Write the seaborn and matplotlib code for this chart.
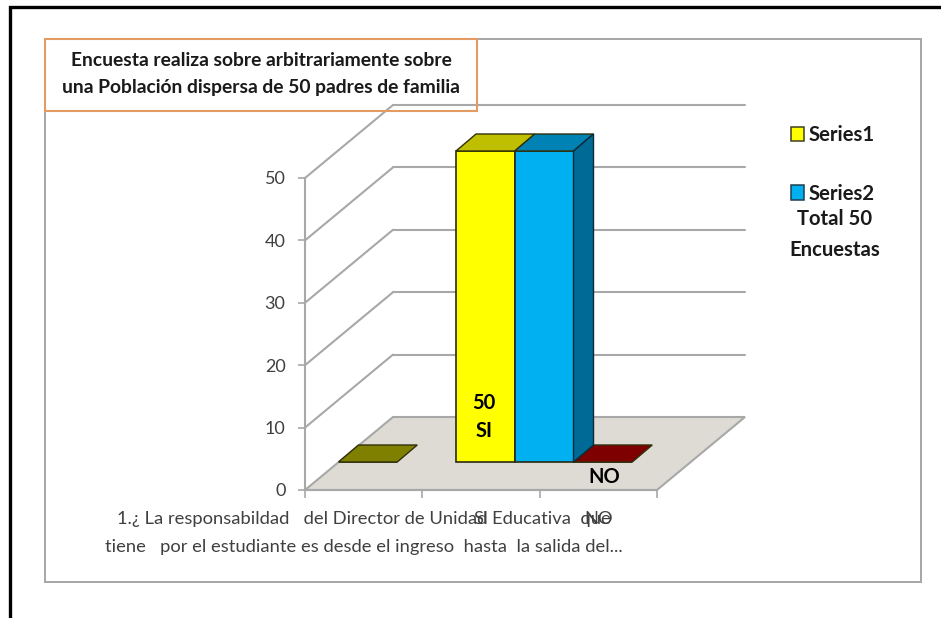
#!/usr/bin/env python3
"""Encuesta chart: fake 3D columns drawn with seaborn on two stacked axes"""

import pandas as pd
import matplotlib
matplotlib.use('Agg')
import matplotlib.pyplot as plt
from matplotlib.patches import Polygon, Rectangle, Patch
from matplotlib.transforms import Affine2D
import seaborn as sns

# Data
categories = ['1.¿ La responsabildad   del Director de Unidad Educativa  que\n'
              'tiene   por el estudiante es desde el ingreso  hasta  la salida del...',
              'SI', 'NO']
series1 = [0, 50, 0]
series2 = [None, 50, None]
y_ticks = [0, 10, 20, 30, 40, 50]
title_lines = ['Encuesta realiza sobre arbitrariamente sobre',
               'una Población dispersa de 50 padres de familia']
notes = ['Total 50', 'Encuestas']

# Colours
front_colors = {('Series1', 0): '#FFFF00', ('Series1', 1): '#FFFF00', ('Series1', 2): '#C00000',
                ('Series2', 1): '#00B0F0'}
top_colors = {('Series1', 0): '#808000', ('Series1', 1): '#BFBF00', ('Series1', 2): '#7F0000',
              ('Series2', 1): '#0082B4'}
side_color = '#006A96'
GRID = '#A8A8A8'
FLOOR = '#DDDBD3'
W, H = 941, 618

sns.set_theme(style='white')
plt.rcParams['font.family'] = ['Lato', 'DejaVu Sans']


def px_rect(x0, y0, x1, y1):
    """Pixel box (top-left origin) to figure fractions"""
    return [x0 / W, 1 - y1 / H, (x1 - x0) / W, (y1 - y0) / H]


def shifted(ax, dx, dy):
    """Data transform moved by some pixels, for the depth of the fake 3D"""
    return ax.transData + Affine2D().translate(dx, dy)


fig = plt.figure(figsize=(W / 100, H / 100), dpi=100, facecolor='white')

# Page frame and chart frame, in pixels
bg = fig.add_axes([0, 0, 1, 1], zorder=0)
bg.set_xlim(0, W)
bg.set_ylim(H, 0)
bg.axis('off')
bg.plot([10, 10, W], [H, 7, 7], color='black', lw=2.4, solid_joinstyle='miter')
bg.add_patch(Rectangle((45, 39), 876, 543, fc='none', ec='#A6A6A6', lw=1.4))

# Front plane of the box: holds the scale, ticks and labels
ax = fig.add_axes(px_rect(305, 178, 657, 490), zorder=1, facecolor='none')
ax.set_xlim(-0.5, 2.5)
ax.set_ylim(0, 50)
ax.set_yticks(y_ticks)
ax.set_xticks([-0.5, 0.5, 1.5, 2.5])
ax.set_xticklabels([])
ax.set_xticks([0, 1, 2], labels=categories, minor=True)
for s in ['top', 'right']:
    ax.spines[s].set_visible(False)
for s in ['left', 'bottom']:
    ax.spines[s].set_color(GRID)
    ax.spines[s].set_linewidth(1.5)
ax.tick_params(axis='y', which='major', left=True, length=5, width=1.2, color=GRID,
               labelsize=13, labelcolor='#404040', pad=9)
ax.tick_params(axis='x', which='major', bottom=True, length=6, width=1.2, color=GRID)
ax.tick_params(axis='x', which='minor', bottom=False, length=0, labelsize=13.2,
               labelcolor='#404040', pad=15)
for lab in ax.get_xticklabels(minor=True):
    lab.set_linespacing(1.9)

# Floor and back wall lines
back = shifted(ax, 88, 73)
floor = Polygon([(-0.5, 0), (2.5, 0), (2.5, 0), (-0.5, 0)], closed=True, fc=FLOOR, ec=GRID, lw=1.5,
                clip_on=False, zorder=1)
disp = ax.transData
p0, p1 = disp.transform([(-0.5, 0), (2.5, 0)])
floor.set_transform(Affine2D())
floor.set_xy([p0, p1, p1 + (88, 73), p0 + (88, 73)])
ax.add_patch(floor)
for v in y_ticks[1:]:
    a, b = disp.transform([(-0.5, v), (2.5, v)])
    ax.plot([a[0], a[0] + 88], [a[1], a[1] + 73], color=GRID, lw=1.5, transform=Affine2D(),
            clip_on=False, zorder=1)
    ax.plot([-0.5, 2.5], [v, v], color=GRID, lw=1.5, transform=back, clip_on=False, zorder=1)

# Columns, one plane further back than the axis
bars_ax = fig.add_axes(px_rect(338.5, 151, 691, 462), zorder=2, facecolor='none')
df = pd.DataFrame({'categoria': categories * 2,
                   'valor': series1 + series2,
                   'serie': ['Series1'] * 3 + ['Series2'] * 3}).dropna()
sns.barplot(data=df, x='categoria', y='valor', hue='serie', order=categories,
            hue_order=['Series1', 'Series2'], width=1.0, gap=0, dodge=True, ax=bars_ax,
            legend=False, saturation=1)
bars_ax.set_xlim(-0.5, 2.5)
bars_ax.set_ylim(0, 50)
bars_ax.axis('off')

DX, DY = 20, 17
for name, container in zip(['Series1', 'Series2'], bars_ax.containers):
    for patch in container:
        if not patch.get_width() or pd.isna(patch.get_height()):
            continue
        cat = int(round(patch.get_x() + patch.get_width() / 2))
        if (name, cat) not in front_colors:
            patch.set_visible(False)
            continue
        patch.set(facecolor=front_colors[(name, cat)], edgecolor='#2A2A10', linewidth=1.2,
                  clip_on=False, zorder=3)
        (x0, y0), (x1, y1) = bars_ax.transData.transform(
            [(patch.get_x(), 0), (patch.get_x() + patch.get_width(), patch.get_height())])
        bars_ax.add_patch(Polygon([(x0, y1), (x1, y1), (x1 + DX, y1 + DY), (x0 + DX, y1 + DY)],
                                  fc=top_colors[(name, cat)], ec='#30300A', lw=1.0,
                                  transform=Affine2D(), clip_on=False, zorder=3))
        if name == 'Series2':
            bars_ax.add_patch(Polygon([(x1, y0), (x1 + DX, y0 + DY), (x1 + DX, y1 + DY), (x1, y1)],
                                      fc=side_color, ec='#0A2A3A', lw=1.0,
                                      transform=Affine2D(), clip_on=False, zorder=3))

# Labels written on the columns
bars_ax.text(0.735, 9.5, '50', ha='center', va='center', fontsize=14.5, fontweight='bold', color='black', zorder=5)
bars_ax.text(0.735, 5.0, 'SI', ha='center', va='center', fontsize=14.5, fontweight='bold', color='black', zorder=5)
bars_ax.text(1.76, -2.4, 'NO', ha='center', va='center', fontsize=14.5, fontweight='bold', color='black', zorder=5)

# Title box and side notes on top
over = fig.add_axes([0, 0, 1, 1], zorder=3, facecolor='none')
over.set_xlim(0, W)
over.set_ylim(H, 0)
over.axis('off')
over.add_patch(Rectangle((45, 38.5), 432, 72, fc='none', ec='#E39A63', lw=1.5))
for line, y in zip(title_lines, [60, 88]):
    over.text(261, y, line, ha='center', va='center', fontsize=13.9, fontweight='bold', color='#1A1A1A')
for note, y in zip(notes, [219, 250]):
    over.text(835, y, note, ha='center', va='center', fontsize=14.6, fontweight='bold', color='#1A1A1A')

handles = [Patch(fc='#FFFF00', ec='#404020', lw=1.1, label='Series1'),
           Patch(fc='#00B0F0', ec='#204050', lw=1.1, label='Series2')]
leg = over.legend(handles=handles, loc='upper left', bbox_to_anchor=(785 / W, 1 - 119 / H),
                  bbox_transform=fig.transFigure, frameon=False, handlelength=0.65, handleheight=0.7,
                  handletextpad=0.2, labelspacing=1.9, borderaxespad=0, borderpad=0.3,
                  prop={'size': 14.6, 'weight': 'bold'})
for t in leg.get_texts():
    t.set_color('#1A1A1A')

fig.savefig('out.png', dpi=100, facecolor='white')
